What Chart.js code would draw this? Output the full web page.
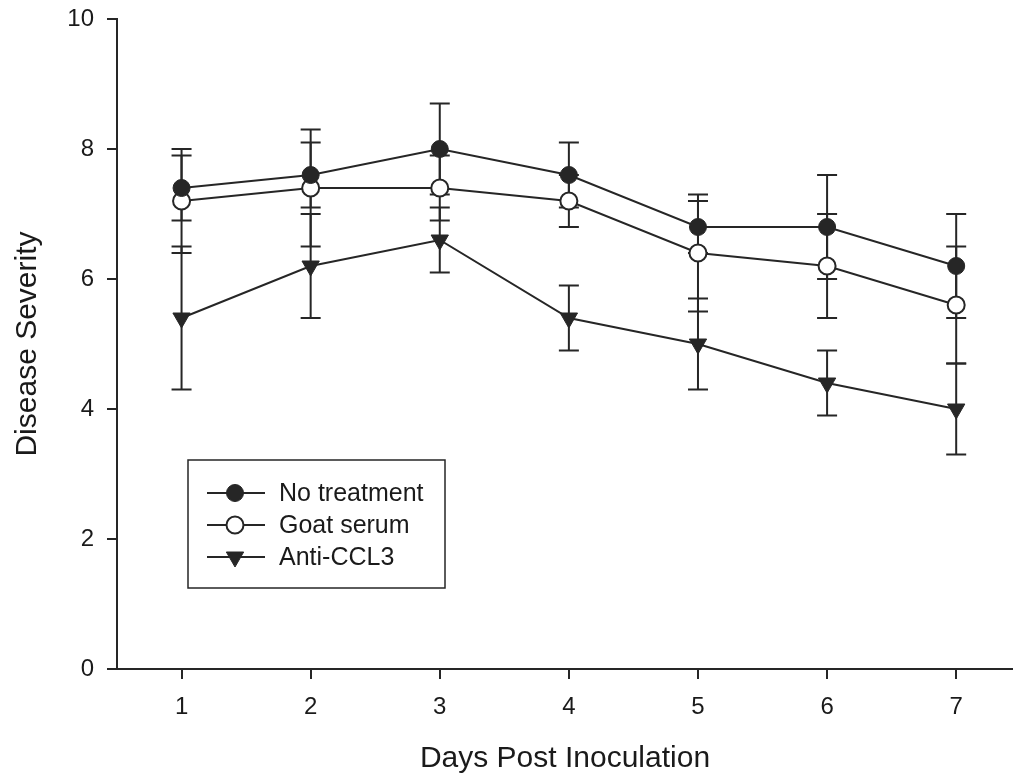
<!DOCTYPE html>
<html><head><meta charset="utf-8">
<script src="https://cdn.jsdelivr.net/npm/chart.js@4/dist/chart.umd.min.js"></script>
<style>html,body{margin:0;padding:0;background:#fff}#wrap{width:1013px;height:781px}</style>
</head><body><div id="wrap"><canvas id="c" width="1013" height="781"></canvas></div>
<script>
const days = [1, 2, 3, 4, 5, 6, 7];
const xTicks = [1, 2, 3, 4, 5, 6, 7];
const yTicks = [0, 2, 4, 6, 8, 10];
const noTreatment = [7.4, 7.6, 8.0, 7.6, 6.8, 6.8, 6.2];
const noTreatmentErr = [0.5, 0.5, 0.7, 0.5, 0.4, 0.8, 0.8];
const goatSerum = [7.2, 7.4, 7.4, 7.2, 6.4, 6.2, 5.6];
const goatSerumErr = [0.8, 0.9, 0.5, 0.4, 0.9, 0.8, 0.9];
const antiCCL3 = [5.4, 6.2, 6.6, 5.4, 5.0, 4.4, 4.0];
const antiCCL3Err = [1.1, 0.8, 0.5, 0.5, 0.7, 0.5, 0.7];
const seriesLabels = ['No treatment', 'Goat serum', 'Anti-CCL3'];
const xTitle = 'Days Post Inoculation';
const yTitle = 'Disease Severity';

const INK = '#262626';
const FONT = "'Liberation Sans', Arial, sans-serif";

function pts(vals) { return days.map((d, i) => ({ x: d, y: vals[i] })); }

const datasets = [
  { label: seriesLabels[0], data: pts(noTreatment), err: noTreatmentErr,
    pointStyle: 'circle', pointRadius: 8.5, pointBackgroundColor: INK, pointBorderColor: INK, pointBorderWidth: 1, rotation: 0 },
  { label: seriesLabels[1], data: pts(goatSerum), err: goatSerumErr,
    pointStyle: 'circle', pointRadius: 8.5, pointBackgroundColor: '#ffffff', pointBorderColor: INK, pointBorderWidth: 2, rotation: 0 },
  { label: seriesLabels[2], data: pts(antiCCL3), err: antiCCL3Err,
    pointStyle: 'triangle', pointRadius: 10, pointBackgroundColor: INK, pointBorderColor: INK, pointBorderWidth: 1, rotation: 180 }
].map(d => Object.assign({ borderColor: INK, borderWidth: 2, showLine: true, fill: false, tension: 0,
  pointHoverRadius: d.pointRadius }, d));

const errorBars = {
  id: 'errorBars',
  beforeDatasetsDraw(chart) {
    const ctx = chart.ctx, xs = chart.scales.x, ys = chart.scales.y;
    ctx.save();
    ctx.strokeStyle = INK; ctx.lineWidth = 2;
    chart.data.datasets.forEach(ds => {
      ds.data.forEach((p, i) => {
        const e = ds.err[i];
        const x = xs.getPixelForValue(p.x);
        const yt = ys.getPixelForValue(p.y + e), yb = ys.getPixelForValue(p.y - e);
        ctx.beginPath();
        ctx.moveTo(x, yt); ctx.lineTo(x, yb);
        ctx.moveTo(x - 10, yt); ctx.lineTo(x + 10, yt);
        ctx.moveTo(x - 10, yb); ctx.lineTo(x + 10, yb);
        ctx.stroke();
      });
    });
    ctx.restore();
  }
};

function drawMarker(ctx, ds, x, y) {
  ctx.save();
  ctx.fillStyle = ds.pointBackgroundColor; ctx.strokeStyle = ds.pointBorderColor; ctx.lineWidth = ds.pointBorderWidth;
  ctx.beginPath();
  if (ds.pointStyle === 'triangle') {
    const r = ds.pointRadius;
    let a = ds.rotation * Math.PI / 180;
    ctx.moveTo(x + Math.sin(a) * r, y - Math.cos(a) * r);
    a += 2 * Math.PI / 3; ctx.lineTo(x + Math.sin(a) * r, y - Math.cos(a) * r);
    a += 2 * Math.PI / 3; ctx.lineTo(x + Math.sin(a) * r, y - Math.cos(a) * r);
    ctx.closePath();
  } else {
    ctx.arc(x, y, ds.pointRadius, 0, Math.PI * 2);
  }
  ctx.fill(); ctx.stroke();
  ctx.restore();
}

const boxLegend = {
  id: 'boxLegend',
  afterDraw(chart) {
    const ctx = chart.ctx, a = chart.chartArea;
    const left = a.left + 71, top = a.top + 441, w = 257, h = 128;
    ctx.save();
    ctx.strokeStyle = INK; ctx.lineWidth = 1.5;
    ctx.strokeRect(left, top, w, h);
    ctx.font = '25px ' + FONT; ctx.fillStyle = '#1a1a1a'; ctx.textBaseline = 'middle'; ctx.textAlign = 'left';
    chart.data.datasets.forEach((ds, i) => {
      const y = top + 33 + i * 32;
      ctx.strokeStyle = INK; ctx.lineWidth = 2;
      ctx.beginPath(); ctx.moveTo(left + 19, y); ctx.lineTo(left + 77, y); ctx.stroke();
      drawMarker(ctx, ds, left + 47, y);
      ctx.fillStyle = '#1a1a1a';
      ctx.fillText(ds.label, left + 91, y + 1);
    });
    ctx.restore();
  }
};

new Chart(document.getElementById('c'), {
  type: 'scatter',
  data: { datasets },
  plugins: [errorBars, boxLegend],
  options: {
    responsive: false, devicePixelRatio: 1, animation: false,
    layout: { autoPadding: false, padding: { top: 19, right: 0, left: 0, bottom: 0 } },
    plugins: { legend: { display: false }, tooltip: { enabled: false } },
    scales: {
      x: {
        type: 'linear', min: 0.5, max: 7.44,
        afterBuildTicks: s => { s.ticks = xTicks.map(v => ({ value: v })); },
        afterFit: s => { s.height = 112; s.paddingLeft = 0; s.paddingRight = 0; },
        grid: { drawOnChartArea: false, drawTicks: true, tickLength: 10, color: INK, lineWidth: 2 },
        border: { display: true, color: INK, width: 2 },
        ticks: { font: { family: FONT, size: 24 }, color: '#1a1a1a', padding: 14, maxRotation: 0 },
        title: { display: true, text: xTitle, font: { family: FONT, size: 30 }, color: '#1a1a1a', padding: { top: 0, bottom: 4 } }
      },
      y: {
        type: 'linear', min: 0, max: 10,
        afterBuildTicks: s => { s.ticks = yTicks.map(v => ({ value: v })); },
        afterFit: s => { s.width = 117; s.paddingTop = 0; s.paddingBottom = 0; },
        grid: { drawOnChartArea: false, drawTicks: true, tickLength: 10, color: INK, lineWidth: 2 },
        border: { display: true, color: INK, width: 2 },
        ticks: { font: { family: FONT, size: 24 }, color: '#1a1a1a', padding: 13 },
        title: { display: true, text: yTitle, font: { family: FONT, size: 30 }, color: '#1a1a1a', padding: { top: 10, bottom: 0 } }
      }
    }
  }
});
</script></body></html>
